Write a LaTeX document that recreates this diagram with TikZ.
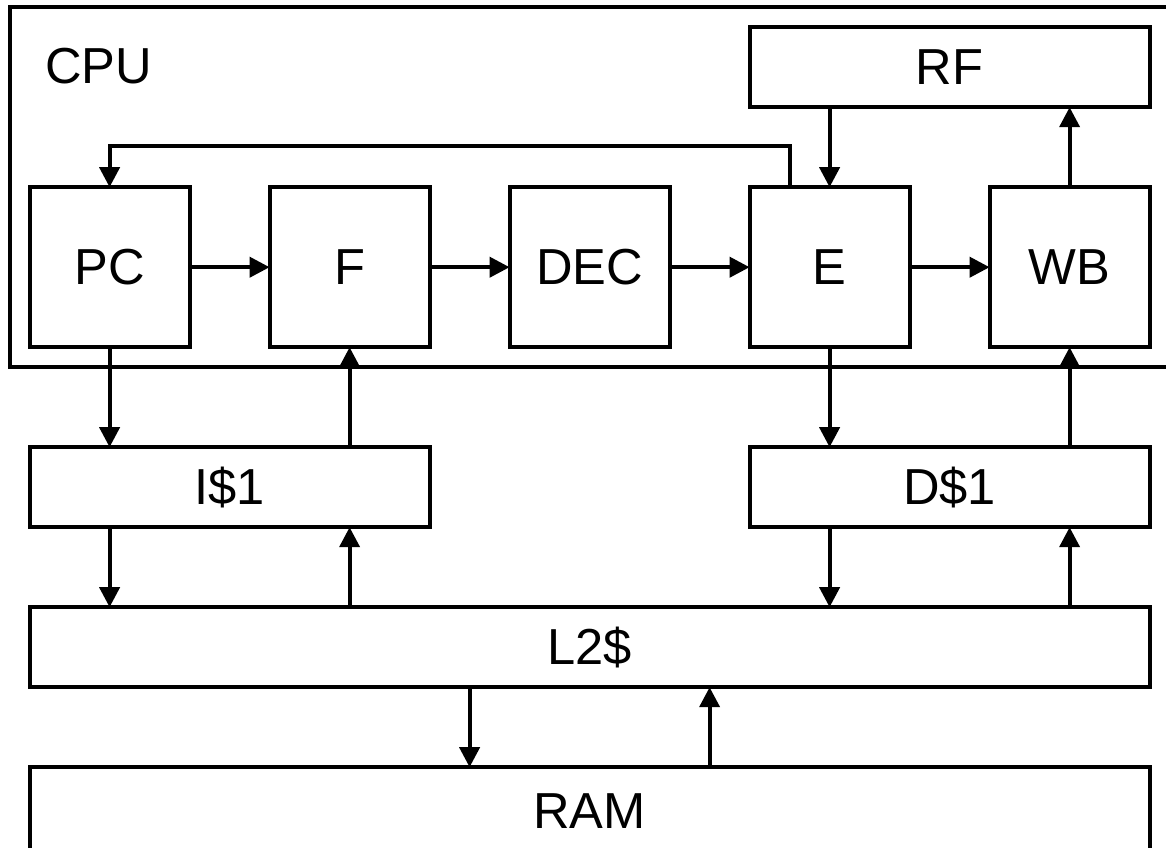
\documentclass[tikz,border=0pt]{standalone}
\usepackage{fontspec}
\setmainfont{Liberation Sans}
\usetikzlibrary{arrows.meta,positioning,fit}

\begin{document}
\begin{tikzpicture}[
  node distance=10mm,
  font=\fontsize{18}{21}\selectfont,
  stage/.style={draw,line width=1.4pt,minimum width=20mm,minimum height=20mm,
    inner sep=0pt,outer sep=0pt},
  store/.style={draw,line width=1.4pt,minimum width=50mm,minimum height=10mm,
    inner sep=0pt,outer sep=0pt},
  bus/.style={line width=1.4pt,-{Triangle[length=2.5mm,width=2.5mm]}}
]
  \useasboundingbox (0,0) rectangle (14.575,-10.5875);

  \node[stage] (PC) at (1.37,-3.34) {PC};
  \node[stage,right=of PC] (F) {F};
  \node[stage,right=of F] (DEC) {DEC};
  \node[stage,right=of DEC] (E) {E};
  \node[stage,right=of E] (WB) {WB};
  \node[store,above right=10mm and 0mm of E.north west] (RF) {RF};

  \node[draw,line width=1.4pt,inner sep=2.5mm,outer sep=0pt,fit=(PC)(RF)(WB)] (CPU) {};
  \node[anchor=north west,inner sep=0pt] (cpulabel)
    at ([shift={(4.4mm,-5.1mm)}]CPU.north west) {CPU};

  \node[store,below right=10mm and 2.5mm of CPU.south west] (I1) {I\$1};
  \node[store,anchor=north west] (D1) at (I1.north -| E.west) {D\$1};
  \node[store,minimum width=140mm,below right=10mm and 0mm of I1.south west] (L2) {L2\$};
  \node[store,minimum width=140mm,minimum height=11mm,below=of L2] (RAM) {RAM};

  \draw[bus] (PC) -- (F);
  \draw[bus] (F) -- (DEC);
  \draw[bus] (DEC) -- (E);
  \draw[bus] (E) -- (WB);
  \draw[bus] ([xshift=-5mm]E.north) -- ++(0,5.2mm) -| (PC.north);
  \draw[bus] (RF.south -| E) -- (E);
  \draw[bus] (WB) -- (WB |- RF.south);

  \draw[bus] (PC) -- (PC |- I1.north);
  \draw[bus] (F |- I1.north) -- (F);
  \draw[bus] (PC |- I1.south) -- (PC |- L2.north);
  \draw[bus] (F |- L2.north) -- (F |- I1.south);

  \draw[bus] (E) -- (E |- D1.north);
  \draw[bus] (WB |- D1.north) -- (WB);
  \draw[bus] (E |- D1.south) -- (E |- L2.north);
  \draw[bus] (WB |- L2.north) -- (WB |- D1.south);

  \draw[bus] ([xshift=-15mm]L2.south) -- ([xshift=-15mm]RAM.north);
  \draw[bus] ([xshift=15mm]RAM.north) -- ([xshift=15mm]L2.south);
\end{tikzpicture}
\end{document}
